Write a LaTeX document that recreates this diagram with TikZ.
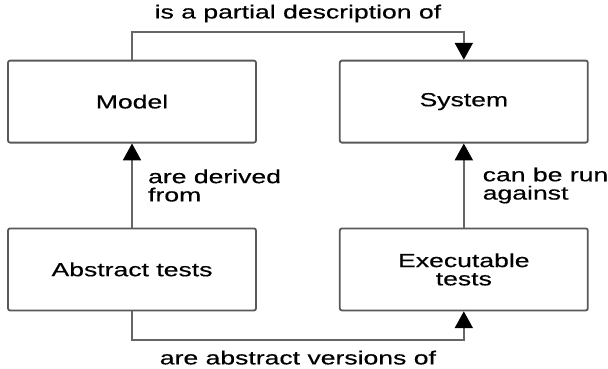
\documentclass[tikz,border=0pt]{standalone}
\usepackage{fontspec}
\setmainfont{Liberation Sans}[FakeStretch=1.4,FakeBold=0.4]
\usepackage{tikz}
\usetikzlibrary{positioning,arrows.meta}

\tikzset{
	box/.style={draw=black!65, line width=1.3pt, rounded corners=1.5pt,
		minimum width=6.2cm, minimum height=2.05cm, align=center,
		font=\fontsize{13.5}{13}\selectfont},
	conn/.style={draw=black!60, line width=1.3pt,
		-{Triangle[width=0.45cm,length=0.42cm,black]}},
	lbl/.style={font=\fontsize{13.5}{13}\selectfont, align=left, inner sep=0pt}
}

\begin{document}
\begin{tikzpicture}
	\useasboundingbox (0,0) rectangle (15.2,9.2);
	\node [box] (model) at (3.3,6.66) {Model};
	\node [box, right=2.05cm of model] (system) {System};
	\node [box, below=2.1cm of model] (abstract) {Abstract tests};
	\node [box, below=2.1cm of system] (exec) {Executable\\tests};
	%
	\draw [conn] (model.north) -- ++(0,0.69) -| (system.north)
		node [lbl, pos=0.25, above=0.22cm] (top) {is a partial description of};
	\draw [conn] (abstract.south) -- ++(0,-0.71) -| (exec.south)
		node [lbl, pos=0.25, below=0.25cm] (bottom) {are abstract versions of};
	\draw [conn] (abstract) -- (model)
		node [lbl, midway, right=0.38cm] (derived) {are derived\\from};
	\draw [conn] (exec) -- (system)
		node [lbl, midway, right=0.45cm] (run) {can be run\\against};
\end{tikzpicture}
\end{document}
